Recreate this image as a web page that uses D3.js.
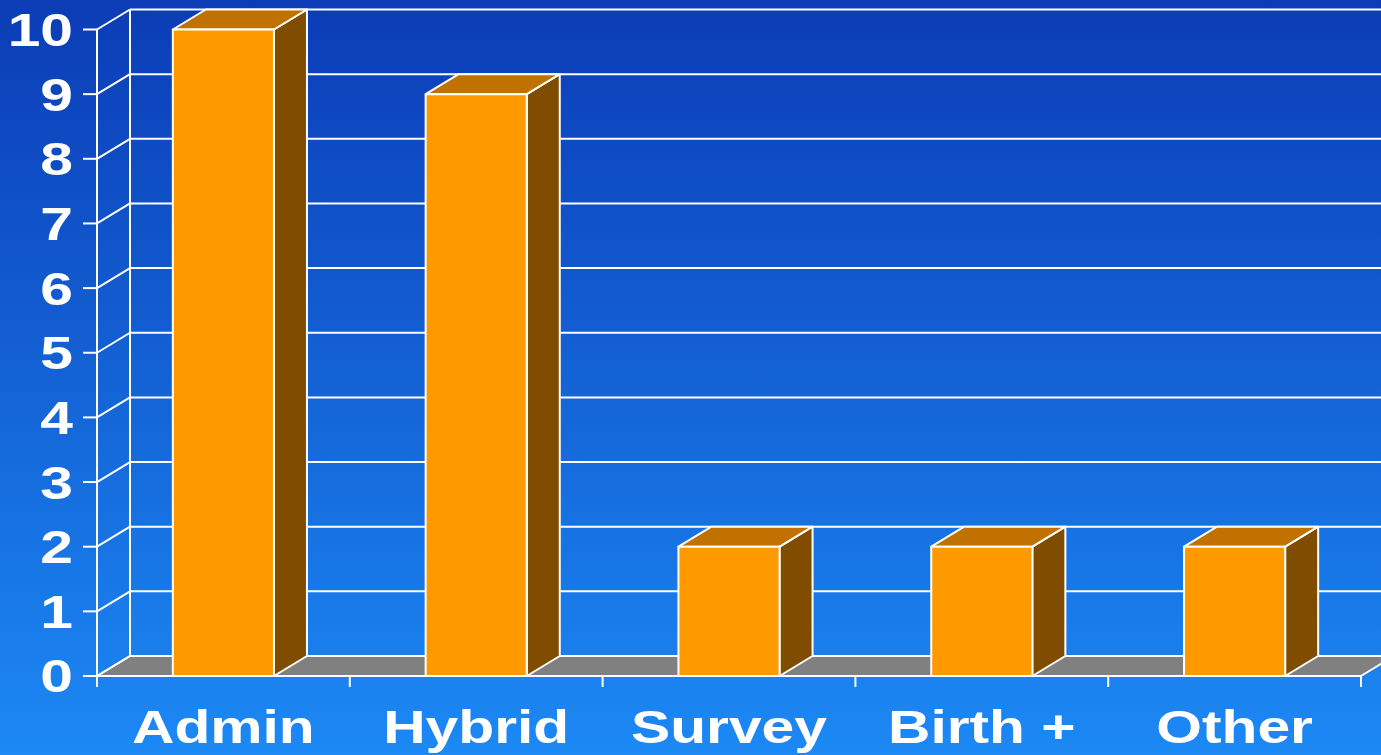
<!DOCTYPE html>
<html>
<head>
<meta charset="utf-8">
<script src="https://cdnjs.cloudflare.com/ajax/libs/d3/7.8.5/d3.min.js"></script>
<style>
  html, body { margin: 0; padding: 0; background: #1a86f0; }
  svg { display: block; }
  text { font-family: "Liberation Sans", Arial, Helvetica, sans-serif; font-weight: bold; fill: #ffffff; }
</style>
</head>
<body>
<div id="chart"></div>
<script>
// Count of methods by data source type
const categories = ["Admin", "Hybrid", "Survey", "Birth +", "Other"];
const counts = [10, 9, 2, 2, 2];
const yTicks = [0, 1, 2, 3, 4, 5, 6, 7, 8, 9, 10];

const W = 1381, H = 755;
const svg = d3.select("#chart").append("svg").attr("width", W).attr("height", H);

// background gradient
const defs = svg.append("defs");
const grad = defs.append("linearGradient").attr("id", "bg").attr("x1", 0).attr("y1", 0).attr("x2", 0).attr("y2", 1);
grad.append("stop").attr("offset", "0%").attr("stop-color", "#0b3cb6");
grad.append("stop").attr("offset", "100%").attr("stop-color", "#1c89f5");
svg.append("rect").attr("width", W).attr("height", H).attr("fill", "url(#bg)");

// front plane geometry and depth offset
const x0 = 97, x1 = 1361;
const dx = 33, dy = -20;

const x = d3.scaleBand().domain(categories).range([x0, x1]).padding(0);
const xBar = d3.scaleBand().domain(categories).range([x0, x1]).paddingInner(0.6).paddingOuter(0.3);
const y = d3.scaleLinear().domain([0, 10]).range([676, 29.5]);

const line = "#ffffff", lw = 2;

// floor
const floorPts = [[x0, y(0)], [x1, y(0)], [x1 + dx, y(0) + dy], [x0 + dx, y(0) + dy]];
svg.append("polygon").attr("points", floorPts.map(p => p.join(",")).join(" "))
  .attr("fill", "#808080").attr("stroke", line).attr("stroke-width", lw).attr("stroke-linejoin", "round");

// back wall gridlines
svg.append("g").selectAll("line").data(yTicks).join("line")
  .attr("x1", x0 + dx).attr("x2", W + 10)
  .attr("y1", d => y(d) + dy).attr("y2", d => y(d) + dy)
  .attr("stroke", line).attr("stroke-width", lw);

// side wall diagonals
svg.append("g").selectAll("line").data(yTicks).join("line")
  .attr("x1", x0).attr("x2", x0 + dx)
  .attr("y1", d => y(d)).attr("y2", d => y(d) + dy)
  .attr("stroke", line).attr("stroke-width", lw);

// back wall left edge
svg.append("line").attr("x1", x0 + dx).attr("x2", x0 + dx)
  .attr("y1", y(10) + dy).attr("y2", y(0) + dy)
  .attr("stroke", line).attr("stroke-width", lw);

// front vertical axis and ticks
svg.append("line").attr("x1", x0).attr("x2", x0).attr("y1", y(10)).attr("y2", y(0) + 11)
  .attr("stroke", line).attr("stroke-width", lw);
svg.append("g").selectAll("line").data(yTicks).join("line")
  .attr("x1", x0 - 14).attr("x2", x0)
  .attr("y1", d => y(d)).attr("y2", d => y(d))
  .attr("stroke", line).attr("stroke-width", lw);

// category boundary ticks
const bounds = categories.map(c => x(c)).concat([x1]);
svg.append("g").selectAll("line").data(bounds).join("line")
  .attr("x1", d => d).attr("x2", d => d)
  .attr("y1", y(0)).attr("y2", y(0) + 11)
  .attr("stroke", line).attr("stroke-width", lw);

// 3D bars
const bars = svg.append("g").selectAll("g").data(categories.map((c, i) => ({ c, v: counts[i] }))).join("g");
bars.each(function (d) {
  const g = d3.select(this);
  const bx = xBar(d.c), bw = xBar.bandwidth();
  const top = y(d.v), bot = y(0);
  const poly = (pts, fill) => g.append("polygon")
    .attr("points", pts.map(p => p.join(",")).join(" "))
    .attr("fill", fill).attr("stroke", line).attr("stroke-width", lw).attr("stroke-linejoin", "round");
  // side
  poly([[bx + bw, top], [bx + bw + dx, top + dy], [bx + bw + dx, bot + dy], [bx + bw, bot]], "#7f4c00");
  // top
  poly([[bx, top], [bx + dx, top + dy], [bx + bw + dx, top + dy], [bx + bw, top]], "#c07100");
  // front
  poly([[bx, top], [bx + bw, top], [bx + bw, bot], [bx, bot]], "#ff9900");
});

// y labels
svg.append("g").selectAll("text").data(yTicks).join("text")
  .attr("transform", d => `translate(73,${y(d)}) scale(1.25,1)`)
  .attr("text-anchor", "end").attr("dy", "0.35em")
  .style("font-size", "47px")
  .text(d => d);

// category labels
svg.append("g").selectAll("text").data(categories).join("text")
  .attr("transform", d => `translate(${x(d) + x.bandwidth() / 2},743) scale(1.25,1)`)
  .attr("text-anchor", "middle")
  .style("font-size", "47px")
  .text(d => d);
</script>
</body>
</html>
